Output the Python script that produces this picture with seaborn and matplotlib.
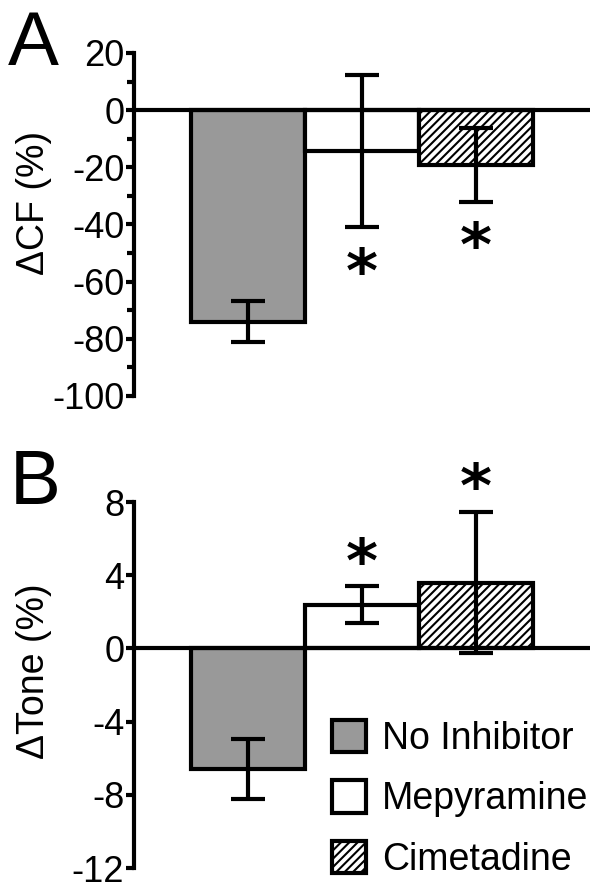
import numpy as np
import matplotlib
matplotlib.use("Agg")
import matplotlib.pyplot as plt
from matplotlib.patches import Patch
import seaborn as sns
import pandas as pd

# data
groups = ["No Inhibitor", "Mepyramine", "Cimetadine"]
cf_mean = [-74.0, -14.3, -19.3]
cf_err = [7.2, 26.5, 13.0]
cf_star = [None, -53.5, -44.5]
tone_mean = [-6.6, 2.4, 3.6]
tone_err = [1.65, 1.0, 3.85]
tone_star = [None, 5.2, 9.3]
colors = ["#999999", "#ffffff", "#ffffff"]
hatches = ["", "", "////"]

sns.set_style("ticks")
plt.rcParams["font.family"] = ["Liberation Sans", "DejaVu Sans"]
plt.rcParams["hatch.linewidth"] = 1.5
for k in ["text.color", "axes.labelcolor", "xtick.color", "ytick.color", "axes.edgecolor", "hatch.color"]:
    plt.rcParams[k] = "black"
LW = 3.0

fig = plt.figure(figsize=(6.01, 8.89), dpi=100)
axA = fig.add_axes([0.223, 0.5546, 0.759, 0.3858])
axB = fig.add_axes([0.223, 0.0235, 0.759, 0.4118])


def draw_panel(ax, means, errs, stars, ylim, major, minor, ylabel, label_y):
    df = pd.DataFrame({"group": groups, "value": means})
    sns.barplot(data=df, x="group", y="value", hue="group", palette=colors,
                width=1.0, errorbar=None, legend=False, ax=ax, zorder=2)
    for p, h in zip(ax.patches, hatches):
        p.set_edgecolor("black")
        p.set_linewidth(LW)
        p.set_hatch(h)
    xs = np.arange(len(groups))
    ax.errorbar(xs, means, yerr=errs, fmt="none", ecolor="black",
                elinewidth=LW, capsize=12, capthick=LW, zorder=3)
    ax.axhline(0, color="black", lw=LW, zorder=4)
    for x, s in zip(xs, stars):
        if s is None:
            continue
        ax.annotate("*", (x, s), xytext=(0, -9), textcoords="offset points",
                    fontsize=44, family="DejaVu Sans", ha="center", va="center",
                    fontweight="bold", annotation_clip=False)
    ax.set_xlim(-1.0, 3.0)
    ax.set_ylim(*ylim)
    ax.set_yticks(major)
    ax.set_yticklabels([str(v) for v in major])
    if minor is not None:
        ax.set_yticks(minor, minor=True)
    ax.set_xticks([])
    ax.set_xlabel("")
    ax.set_ylabel(ylabel, fontsize=27)
    ax.yaxis.set_label_coords(-0.18, label_y)
    for sp in ["top", "right", "bottom"]:
        ax.spines[sp].set_visible(False)
    ax.spines["left"].set_linewidth(LW)
    ax.tick_params(axis="y", which="major", length=6, width=LW, labelsize=26, pad=1)
    ax.tick_params(axis="y", which="minor", length=5, width=LW)


draw_panel(axA, cf_mean, cf_err, cf_star, (-100, 20), [20, 0, -20, -40, -60, -80, -100],
           np.arange(-90, 20, 20), "\u0394CF (%)", 0.563)
draw_panel(axB, tone_mean, tone_err, tone_star, (-12, 8), [8, 4, 0, -4, -8, -12],
           None, "\u0394Tone (%)", 0.538)

fig.text(0.013, 0.927, "A", fontsize=55, va="baseline", ha="left")
fig.text(0.017, 0.433, "B", fontsize=55, va="baseline", ha="left")

handles = [Patch(facecolor=c, edgecolor="black", linewidth=LW, hatch=h)
           for c, h in zip(colors, hatches)]
axB.legend(handles, groups, loc="upper left", bbox_to_anchor=(0.553, 0.19),
           bbox_transform=fig.transFigure, frameon=False, fontsize=27,
           handlelength=0.9, handleheight=0.95, handletextpad=0.42,
           labelspacing=0.62, borderpad=0, borderaxespad=0)

fig.savefig("out.png", dpi=100)
